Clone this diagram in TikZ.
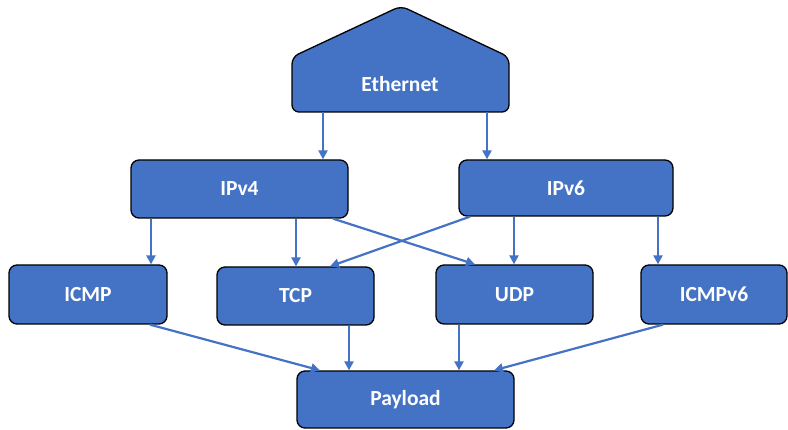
\documentclass[tikz,border=0pt]{standalone}
\usepackage{fontspec}
\setmainfont{Carlito}
\usetikzlibrary{arrows.meta}
\definecolor{boxblue}{HTML}{4472C4}
\tikzset{
  pbox/.style={draw=black, line width=1.3pt, fill=boxblue, rounded corners=8pt},
  lbl/.style={text=white, font=\bfseries\fontsize{21.5}{25}\selectfont, inner sep=0pt},
  conn/.style={draw=boxblue, line width=2.2pt, -{Triangle[length=9pt,width=9pt]}}
}
\begin{document}
\begin{tikzpicture}[x=1pt,y=-1pt]
\useasboundingbox (0,0) rectangle (788,430);
% Ethernet pentagon
\draw[line width=1.3pt, fill=boxblue, rounded corners=7pt] (401,6) -- (509,57) -- (509,112) -- (292,112) -- (292,57) -- cycle;
\node[lbl] (eth) at (400,84) {Ethernet};
\coordinate (ethL) at (323,112);
\coordinate (ethR) at (487,112);
% boxes
\node[pbox, minimum width=217pt, minimum height=58pt] (ipv4) at (239.5,189) {};
\node[lbl] at (ipv4) {IPv4};
\node[pbox, minimum width=214pt, minimum height=56pt] (ipv6) at (566,188) {};
\node[lbl] at (ipv6) {IPv6};
\node[pbox, minimum width=158pt, minimum height=59pt] (icmp) at (88,294.5) {};
\node[lbl] at (icmp) {ICMP};
\node[pbox, minimum width=157pt, minimum height=58pt] (tcp) at (295.5,296) {};
\node[lbl] at (tcp) {TCP};
\node[pbox, minimum width=157pt, minimum height=59pt] (udp) at (514.5,294.5) {};
\node[lbl] at (udp) {UDP};
\node[pbox, minimum width=146pt, minimum height=59pt] (icmpv6) at (714,294.5) {};
\node[lbl] at (icmpv6) {ICMPv6};
\node[pbox, minimum width=217pt, minimum height=57pt] (pay) at (405.5,399.5) {};
\node[lbl] at (pay) {Payload};
% connectors
\draw[conn] (ethL) -- (ethL |- ipv4.north);
\draw[conn] (ethR) -- (ethR |- ipv6.north);
\draw[conn] (ipv4.south -| 151,0) -- (icmp.north -| 151,0);
\draw[conn] (ipv4.south -| 296,0) -- (tcp.north -| 296,0);
\draw[conn] (ipv4.south -| 333,0) -- (udp.north -| 475,0);
\draw[conn] (ipv6.south -| 470,0) -- (tcp.north -| 330,0);
\draw[conn] (ipv6.south -| 514,0) -- (udp.north -| 514,0);
\draw[conn] (ipv6.south -| 658,0) -- (icmpv6.north -| 658,0);
\draw[conn] (icmp.south -| 150,0) -- (pay.north -| 320,0);
\draw[conn] (tcp.south -| 349,0) -- (pay.north -| 349,0);
\draw[conn] (udp.south -| 459,0) -- (pay.north -| 459,0);
\draw[conn] (icmpv6.south -| 663,0) -- (pay.north -| 494,0);
\end{tikzpicture}
\end{document}
